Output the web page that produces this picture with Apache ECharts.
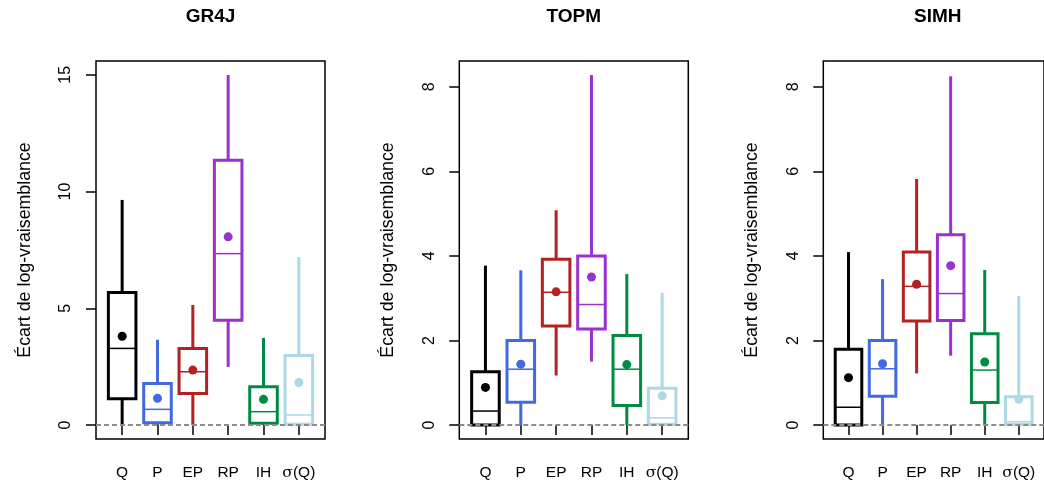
<!DOCTYPE html>
<html><head><meta charset="utf-8">
<script src="https://cdn.jsdelivr.net/npm/echarts@6/dist/echarts.min.js"></script>
<style>html,body{margin:0;padding:0;background:#fff}#c{width:1044px;height:481px}</style>
</head><body><div id="c"></div>
<script>
// ---------- data ----------
const categories = ['Q', 'P', 'EP', 'RP', 'IH', 'σ(Q)'];
const models = ['GR4J', 'TOPM', 'SIMH'];
const colors = ['#000000', '#4169E1', '#B22222', '#9932CC', '#008B45', '#ADD8E6'];
// each box: [lower whisker, Q1, median, Q3, upper whisker]
const gr4jBoxes = [
  [0, 1.12, 3.28, 5.68, 9.64],
  [0, 0.10, 0.67, 1.78, 3.65],
  [0, 1.35, 2.28, 3.28, 5.14],
  [2.49, 4.49, 7.34, 11.34, 14.99],
  [0, 0.07, 0.57, 1.64, 3.73],
  [0, 0.03, 0.43, 2.98, 7.19]
];
const gr4jMeans = [3.80, 1.14, 2.35, 8.06, 1.10, 1.82];
const topmBoxes = [
  [0, 0.00, 0.33, 1.26, 3.77],
  [0, 0.54, 1.32, 2.00, 3.66],
  [1.17, 2.34, 3.14, 3.92, 5.08],
  [1.50, 2.27, 2.85, 4.00, 8.28],
  [0, 0.46, 1.32, 2.12, 3.57],
  [0, 0.02, 0.17, 0.87, 3.13]
];
const topmMeans = [0.89, 1.44, 3.15, 3.50, 1.43, 0.69];
const simhBoxes = [
  [0, 0.00, 0.42, 1.79, 4.09],
  [0, 0.68, 1.33, 2.00, 3.45],
  [1.22, 2.46, 3.28, 4.09, 5.82],
  [1.64, 2.47, 3.11, 4.50, 8.25],
  [0, 0.53, 1.30, 2.16, 3.67],
  [0, 0.02, 0.08, 0.67, 3.05]
];
const simhMeans = [1.12, 1.45, 3.33, 3.77, 1.49, 0.61];
const yTicks = [[0, 5, 10, 15], [0, 2, 4, 6, 8], [0, 2, 4, 6, 8]];
const yRanges = [[-0.6, 15.59], [-0.331, 8.611], [-0.331, 8.611]];
const yTitle = 'Écart de log-vraisemblance';

const allBoxes = [gr4jBoxes, topmBoxes, simhBoxes];
const allMeans = [gr4jMeans, topmMeans, simhMeans];

// ---------- layout ----------
const frameLefts = [96, 459.3, 823.3];
const frameTop = 61, frameW = 229, frameH = 378;
const FONT = '"Liberation Sans", Arial, Helvetica, sans-serif';
const xPos = categories.map((c, i) => i + 1);

function renderBox(params, api) {
  const x = api.value(0);
  const lo = api.value(1), q1 = api.value(2), md = api.value(3), q3 = api.value(4), hi = api.value(5);
  const col = colors[params.dataIndex];
  const w = api.size([0.78, 0])[0];
  const pLo = api.coord([x, lo]), pQ1 = api.coord([x, q1]), pMd = api.coord([x, md]);
  const pQ3 = api.coord([x, q3]), pHi = api.coord([x, hi]);
  const cx = pLo[0];
  const children = [];
  if (pLo[1] - pQ1[1] > 0.5) children.push({type: 'line', shape: {x1: cx, y1: pLo[1], x2: cx, y2: pQ1[1]}, style: {stroke: col, lineWidth: 3}});
  children.push({type: 'line', shape: {x1: cx, y1: pQ3[1], x2: cx, y2: pHi[1]}, style: {stroke: col, lineWidth: 3}});
  children.push({type: 'rect', shape: {x: cx - w / 2, y: pQ3[1], width: w, height: pQ1[1] - pQ3[1]}, style: {stroke: col, fill: 'none', lineWidth: 3, lineJoin: 'miter'}});
  children.push({type: 'line', shape: {x1: cx - w / 2, y1: pMd[1], x2: cx + w / 2, y2: pMd[1]}, style: {stroke: col, lineWidth: 1.5}});
  return {type: 'group', children};
}

const grid = [], xAxis = [], yAxis = [], series = [], title = [];
models.forEach((m, k) => {
  const fl = frameLefts[k];
  grid.push({left: fl, top: frameTop, width: frameW, height: frameH, show: true,
    borderColor: '#000', borderWidth: 1.5, backgroundColor: 'transparent', containLabel: false});
  title.push({text: m, left: fl + frameW / 2, top: 7, textAlign: 'center', padding: 0,
    textStyle: {fontFamily: FONT, fontWeight: 'bold', fontSize: 19, color: '#000'}});
  xAxis.push({type: 'value', gridIndex: k, min: 0.26, max: 6.74,
    axisLine: {show: false}, splitLine: {show: false},
    axisTick: {show: true, inside: false, length: 10, customValues: xPos, lineStyle: {color: '#000', width: 1.5}},
    axisLabel: {show: true, customValues: xPos, margin: 26, color: '#000', fontFamily: FONT, fontSize: 15.5,
      formatter: v => { const c = categories[Math.round(v) - 1]; return c === 'σ(Q)' ? '{s|σ}(Q)' : c; },
      rich: {s: {fontFamily: '"DejaVu Serif", serif', fontSize: 15.5, color: '#000'}}}
  });
  yAxis.push({type: 'value', gridIndex: k, min: yRanges[k][0], max: yRanges[k][1],
    axisLine: {show: false}, splitLine: {show: false},
    axisTick: {show: true, inside: false, length: 10, customValues: yTicks[k], lineStyle: {color: '#000', width: 1.5}},
    axisLabel: {show: true, customValues: yTicks[k], rotate: 90, margin: 22, color: '#000', fontFamily: FONT, fontSize: 16},
    name: yTitle, nameLocation: 'middle', nameRotate: 90, nameGap: 62,
    nameTextStyle: {fontFamily: FONT, fontSize: 17.8, color: '#000'}
  });
  series.push({type: 'custom', xAxisIndex: k, yAxisIndex: k, renderItem: renderBox, z: 2,
    data: allBoxes[k].map((b, i) => [xPos[i], ...b]), clip: false});
  series.push({type: 'scatter', xAxisIndex: k, yAxisIndex: k, symbol: 'circle', symbolSize: 9, z: 4,
    itemStyle: {opacity: 1},
    data: allMeans[k].map((v, i) => ({value: [xPos[i], v], itemStyle: {color: colors[i], opacity: 1}})),
    markLine: {silent: true, symbol: 'none', label: {show: false}, animation: false,
      lineStyle: {color: '#8c8c8c', width: 2, type: [5, 3], opacity: 1}, data: [{yAxis: 0}]}
  });
});

const chart = echarts.init(document.getElementById('c'), null, {renderer: 'canvas'});
chart.setOption({animation: false, backgroundColor: '#fff', title, grid, xAxis, yAxis, series});
</script></body></html>
